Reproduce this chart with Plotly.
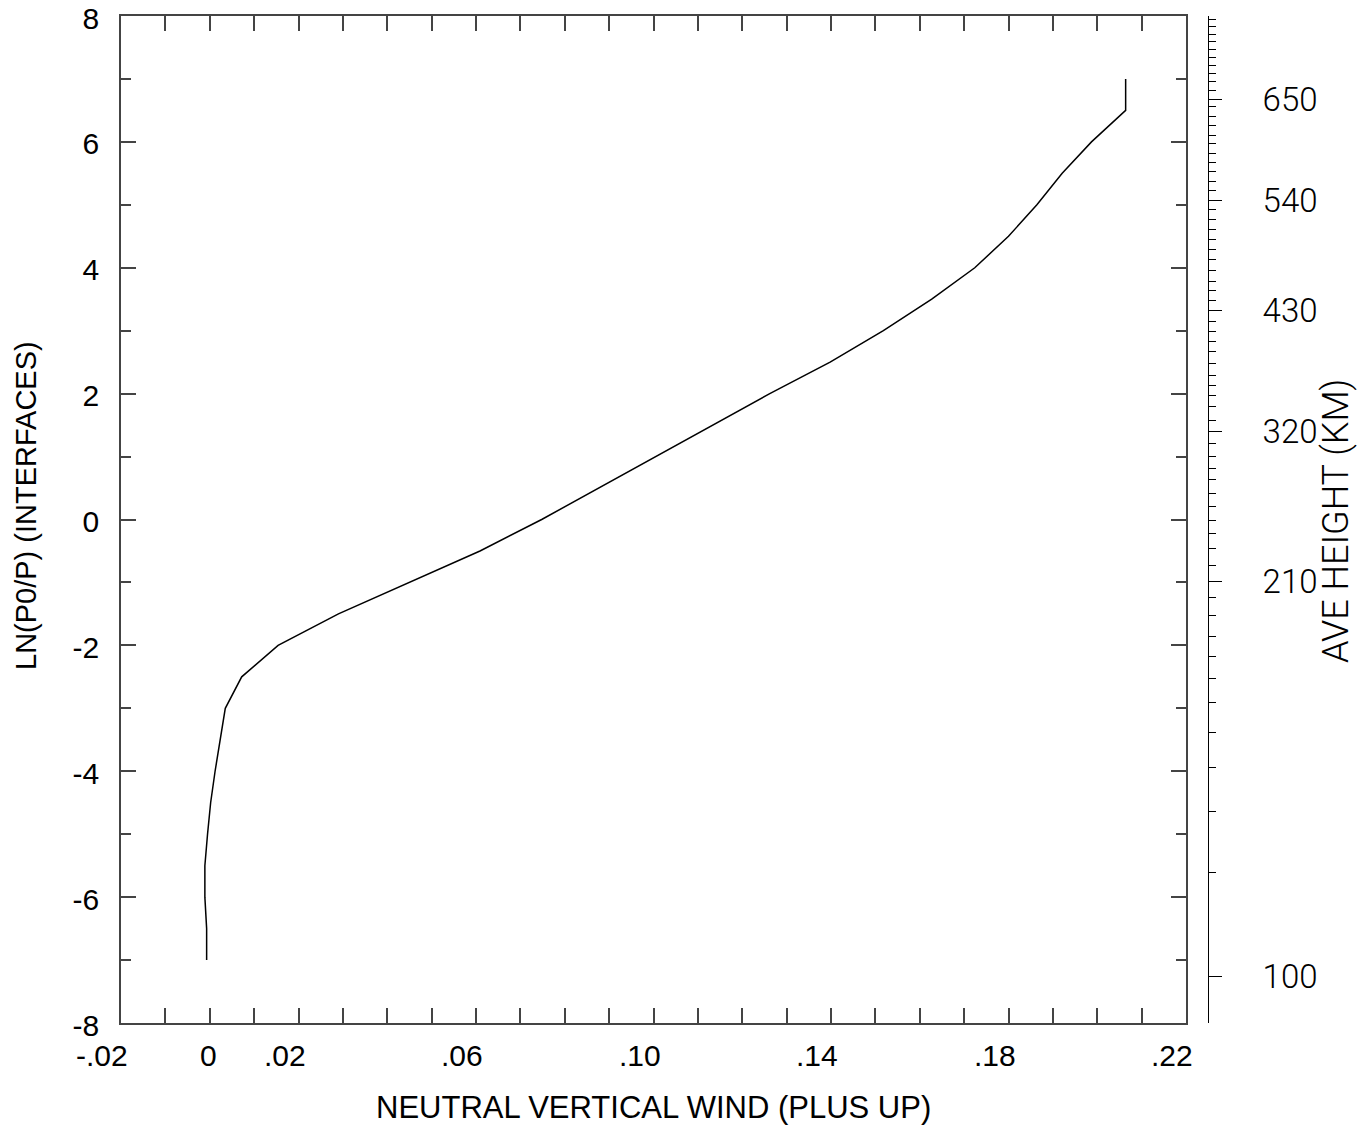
import plotly.graph_objects as go

# ---- data ----
ln_p = [-7.0, -6.5, -6.0, -5.5, -5.0, -4.5, -4.0, -3.5, -3.0, -2.5, -2.0, -1.5, -1.0, -0.5,
        0.0, 0.5, 1.0, 1.5, 2.0, 2.5, 3.0, 3.5, 4.0, 4.5, 5.0, 5.5, 6.0, 6.5, 7.0]
wind = [-0.0007, -0.0007, -0.0011, -0.0011, -0.0005, 0.0002, 0.0012, 0.0023, 0.0035, 0.0072,
        0.0154, 0.0290, 0.0451, 0.0609, 0.0748, 0.0877, 0.1006, 0.1135, 0.1262, 0.1398,
        0.1518, 0.1627, 0.1724, 0.1800, 0.1864, 0.1921, 0.1987, 0.2064, 0.2064]

x_tickvals = [-0.02, 0.0, 0.02, 0.04, 0.06, 0.08, 0.10, 0.12, 0.14, 0.16, 0.18, 0.20, 0.22]
x_ticktext = ["-.02", "0", ".02", "", ".06", "", ".10", "", ".14", "", ".18", "", ".22"]
y_tickvals = [-8, -6, -4, -2, 0, 2, 4, 6, 8]
y_ticktext = ["-8", "-6", "-4", "-2", "0", "2", "4", "6", "8"]

# average height (km) ticks and their ln(p0/p) positions
height_km = [100, 110, 120, 130, 140, 150, 160, 170, 180, 190, 200, 210, 220, 230, 240, 250,
             260, 270, 280, 290, 300, 310, 320, 330, 340, 350, 360, 370, 380, 390, 400, 410,
             420, 430, 440, 450, 460, 470, 480, 490, 500, 510, 520, 530, 540, 550, 560, 570,
             580, 590, 600, 610, 620, 630, 640, 650, 660, 670, 680, 690, 700, 710, 720, 730,
             740, 750]
height_lnp = [-7.264, -5.601, -4.647, -3.948, -3.392, -2.915, -2.534, -2.169, -1.851, -1.533,
              -1.247, -0.988, -0.723, -0.458, -0.219, -0.008, 0.203, 0.416, 0.628, 0.813,
              0.998, 1.200, 1.395, 1.581, 1.792, 1.967, 2.137, 2.296, 2.482, 2.666, 2.825,
              2.984, 3.143, 3.317, 3.487, 3.635, 3.789, 3.953, 4.134, 4.290, 4.447, 4.604,
              4.762, 4.919, 5.076, 5.224, 5.367, 5.526, 5.675, 5.818, 5.977, 6.109, 6.268,
              6.400, 6.559, 6.676, 6.824, 6.956, 7.089, 7.216, 7.344, 7.464, 7.587, 7.709,
              7.830, 7.947]
height_labels = [100, 210, 320, 430, 540, 650]

major_vals = [height_lnp[height_km.index(h)] for h in height_labels]
major_text = [str(h) for h in height_labels]
minor_vals = [v for h, v in zip(height_km, height_lnp) if h not in height_labels]

MAIN_FONT = "Liberation Sans, Arial, sans-serif"
THIN_FONT = "Roboto, DejaVu Sans Mono, monospace"
AX_COLOR = "#444444"

fig = go.Figure()
fig.add_trace(go.Scatter(x=wind, y=ln_p, mode="lines",
                         line=dict(color="black", width=1.5), showlegend=False,
                         hoverinfo="skip"))
# invisible trace for the secondary (height) axis
fig.add_trace(go.Scatter(x=[None], y=[None], yaxis="y2", showlegend=False, hoverinfo="skip"))

# x tick labels: right-aligned just past each tick, as in the reference
x_label_annots = [
    dict(text=t, x=v, xref="x", y=(1023 - 1055) / 1007, yref="paper",
         xanchor="right", yanchor="middle", xshift=9, showarrow=False,
         font=dict(family=MAIN_FONT, size=30, color="black"))
    for v, t in zip(x_tickvals, x_ticktext) if t
]

# the page body adds an 8 px offset, so the figure is 8 px smaller on each axis
fig.update_layout(
    template="none",
    width=1357, height=1119,
    margin=dict(l=113, r=157, t=8, b=104, pad=0, autoexpand=False),
    paper_bgcolor="white", plot_bgcolor="white",
    xaxis=dict(domain=[0, 1065 / 1087], range=[-0.02, 0.22], showgrid=False, zeroline=False,
               automargin=False, showticklabels=False,
               showline=True, linecolor=AX_COLOR, linewidth=1.5, mirror="allticks",
               ticks="inside", ticklen=15, tickwidth=1.5, tickcolor=AX_COLOR,
               tickmode="array", tickvals=x_tickvals,
               minor=dict(tickmode="linear", tick0=0, dtick=0.01, ticks="inside", ticklen=10,
                          tickwidth=1.5, tickcolor=AX_COLOR, showgrid=False)),
    yaxis=dict(range=[-8, 8], showgrid=False, zeroline=False, automargin=False,
               ticklabeloverflow="allow", ticklabelshift=2,
               showline=True, linecolor=AX_COLOR, linewidth=1.5, mirror="allticks",
               ticks="inside", ticklen=15, tickwidth=1.5, tickcolor=AX_COLOR,
               tickmode="array", tickvals=y_tickvals, ticktext=y_ticktext,
               tickfont=dict(family=MAIN_FONT, size=30, color="black"),
               ticklabelstandoff=14,
               minor=dict(tickmode="linear", tick0=0, dtick=1, ticks="inside", ticklen=10,
                          tickwidth=1.5, tickcolor=AX_COLOR, showgrid=False)),
    yaxis2=dict(range=[-8, 8], overlaying="y", side="right", anchor="free", position=1.0,
                automargin=False, ticklabeloverflow="allow",
                showgrid=False, zeroline=False, showline=True, linecolor="black", linewidth=1,
                ticks="outside", ticklen=13, tickwidth=1, tickcolor="black",
                tickmode="array", tickvals=major_vals, ticktext=major_text,
                tickfont=dict(family=THIN_FONT, size=33, color="black", weight=300),
                ticklabelstandoff=34,
                minor=dict(tickmode="array", tickvals=minor_vals, ticks="outside", ticklen=7,
                           tickwidth=1, tickcolor="black", showgrid=False)),
    annotations=x_label_annots + [
        dict(text="NEUTRAL VERTICAL WIND (PLUS UP)", xref="paper", yref="paper",
             x=(653.5 - 121) / 1087, y=(1023 - 1107) / 1007, xanchor="center", yanchor="middle",
             showarrow=False, font=dict(family=MAIN_FONT, size=31, color="black")),
        dict(text="LN(P0/P) (INTERFACES)", xref="paper", yref="paper",
             x=(26 - 121) / 1087, y=(1023 - 506) / 1007, xanchor="center", yanchor="middle",
             textangle=-90, showarrow=False, font=dict(family=MAIN_FONT, size=29, color="black")),
        dict(text="AVE HEIGHT (KM)", xref="paper", yref="paper",
             x=(1336 - 121) / 1087, y=(1023 - 521) / 1007, xanchor="center", yanchor="middle",
             textangle=-90, showarrow=False,
             font=dict(family=THIN_FONT, size=36, color="black", weight=300)),
    ],
)

fig.write_html("out.html")
